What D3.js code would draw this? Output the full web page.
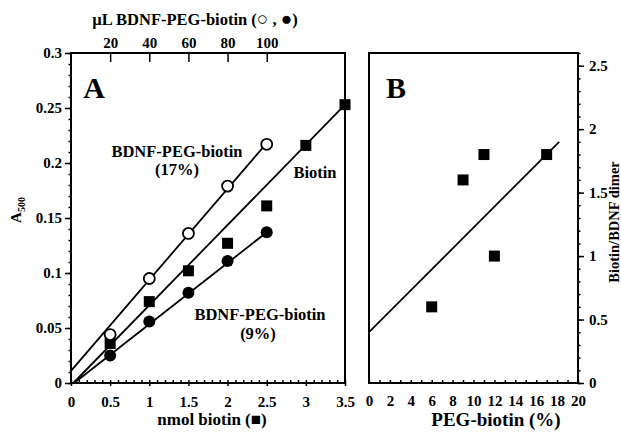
<!DOCTYPE html>
<html>
<head>
<meta charset="utf-8">
<script src="https://cdn.jsdelivr.net/npm/d3@7"></script>
<style>
  body { margin: 0; background: #fff; }
  text { font-family: "Liberation Serif", "DejaVu Serif", serif; font-weight: bold; fill: #000; }
</style>
</head>
<body>
<svg id="chart" width="621" height="432"></svg>
<script>
// panel A data (nmol biotin on x)
const nmol = [0.5, 1, 1.5, 2, 2.5];
const open17 = [0.044, 0.095, 0.136, 0.179, 0.217];
const filled9 = [0.025, 0.056, 0.082, 0.111, 0.137];
const biotinX = [0.5, 1, 1.5, 2, 2.5, 3, 3.5];
const biotinY = [0.036, 0.074, 0.102, 0.127, 0.161, 0.216, 0.253];
// fitted lines, [x, y] end points
const open17Fit = [[0, 0.011], [2.5, 0.218]];
const filled9Fit = [[0.04, 0], [2.5, 0.137]];
const biotinFit = [[0.03, 0], [3.5, 0.253]];
const uLTicks = [20, 40, 60, 80, 100];
const aTicksY = [0, 0.05, 0.1, 0.15, 0.2, 0.25, 0.3];
const aTicksX = [0, 0.5, 1, 1.5, 2, 2.5, 3, 3.5];

// panel B data
const pegPct = [6, 9, 11, 12, 17];
const ratio = [0.6, 1.6, 1.8, 1.0, 1.8];
const ratioFit = [[0, 0.4], [18.2, 1.9]];
const bTicksY = [0, 0.5, 1, 1.5, 2, 2.5];
const bTicksX = [0, 2, 4, 6, 8, 10, 12, 14, 16, 18, 20];

const svg = d3.select("#chart");

// helper: every axis call in its own group
function axis(tx, ty, ax) {
    return svg.append("g").attr("transform", "translate(" + tx + "," + ty + ")").call(ax);
}

// ---------- panel A ----------
let xA = d3.scaleLinear().domain([0, 3.5]).range([71, 345]);
let yA = d3.scaleLinear().domain([0, 0.3]).range([383, 53]);
let xTop = d3.scaleLinear().domain([0, 140]).range([71, 345]);

axis(71, 0, d3.axisLeft(yA).tickValues(d3.range(0, 0.3001, 0.01)).tickSize(2.5).tickFormat(""));
axis(71, 0, d3.axisLeft(yA).tickValues(aTicksY).tickSize(6).tickPadding(3)
    .tickFormat(d => String(+d.toFixed(2))));
axis(0, 383, d3.axisTop(xA).tickValues(d3.range(0, 3.501, 0.1)).tickSize(3).tickFormat(""));
axis(0, 383, d3.axisBottom(xA).tickValues(aTicksX).tickSize(3).tickPadding(10)
    .tickFormat(d => String(d)));
axis(0, 53, d3.axisBottom(xTop).tickValues(uLTicks).tickSize(9).tickFormat(""));
axis(0, 53, d3.axisTop(xTop).tickValues(uLTicks).tickSize(0).tickPadding(5));

// ---------- panel B ----------
let xB = d3.scaleLinear().domain([0, 20]).range([369, 578]);
let yB = d3.scaleLinear().domain([0, 2.6]).range([383, 53]);

axis(578, 0, d3.axisRight(yB).tickValues(d3.range(0, 2.601, 0.1)).tickSize(2.5).tickFormat(""));
axis(578, 0, d3.axisRight(yB).tickValues(bTicksY).tickSize(6).tickPadding(5)
    .tickFormat(d => String(d)));
axis(0, 383, d3.axisTop(xB).tickValues(d3.range(0, 20.1, 1)).tickSize(3).tickFormat(""));
axis(0, 383, d3.axisBottom(xB).tickValues(bTicksX).tickSize(0).tickPadding(12)
    .tickFormat(d => String(d)));

svg.selectAll(".domain").remove();
svg.selectAll(".tick line").attr("stroke-width", 1.5);
svg.selectAll(".tick text").style("font-size", "15px")
    .style("font-family", "Liberation Serif").style("font-weight", "bold");

// frames
svg.append("rect")
    .attr("x", 71).attr("y", 53)
    .attr("width", 345 - 71).attr("height", 383 - 53)
    .attr("fill", "none").attr("stroke", "#000").attr("stroke-width", 2);
svg.append("rect")
    .attr("x", 369).attr("y", 53)
    .attr("width", 578 - 369).attr("height", 383 - 53)
    .attr("fill", "none").attr("stroke", "#000").attr("stroke-width", 2);

// ---------- marks ----------
let line = (sx, sy) => d3.line().x(d => sx(d[0])).y(d => sy(d[1]));

[open17Fit, filled9Fit, biotinFit].forEach(f => {
    svg.append("path").datum(f).attr("d", line(xA, yA))
        .attr("fill", "none").attr("stroke", "#000").attr("stroke-width", 1.8);
});
svg.append("path").datum(ratioFit).attr("d", line(xB, yB))
    .attr("fill", "none").attr("stroke", "#000").attr("stroke-width", 1.8);

const sq = 11;
svg.selectAll(".sqA").data(biotinX).enter().append("rect")
    .attr("x", d => xA(d) - sq / 2)
    .attr("y", (d, i) => yA(biotinY[i]) - sq / 2)
    .attr("width", sq).attr("height", sq).attr("fill", "#000");

svg.selectAll(".filled").data(nmol).enter().append("circle")
    .attr("cx", d => xA(d)).attr("cy", (d, i) => yA(filled9[i]))
    .attr("r", 6).attr("fill", "#000");

svg.selectAll(".open").data(nmol).enter().append("circle")
    .attr("cx", d => xA(d)).attr("cy", (d, i) => yA(open17[i]))
    .attr("r", 5.5).attr("fill", "#fff").attr("stroke", "#000").attr("stroke-width", 1.8);

svg.selectAll(".sqB").data(pegPct).enter().append("rect")
    .attr("x", d => xB(d) - sq / 2)
    .attr("y", (d, i) => yB(ratio[i]) - sq / 2)
    .attr("width", sq).attr("height", sq).attr("fill", "#000");

// ---------- labels ----------
function label(x, y, txt, size) {
    return svg.append("text").attr("x", x).attr("y", y)
        .attr("text-anchor", "middle")
        .style("font-size", size + "px").text(txt);
}

label(94, 98, "A", 30);
label(396, 98, "B", 30);
label(177, 157, "BDNF-PEG-biotin", 16.5);
label(177, 175, "(17%)", 16.5);
label(315, 178, "Biotin", 16.5);
label(260, 320, "BDNF-PEG-biotin", 16.5);
label(258, 339, "(9%)", 16.5);
label(212, 425, "nmol biotin (\u25A0)", 17);
label(496, 426, "PEG-biotin (%)", 19);

let title = svg.append("text").attr("x", 195).attr("y", 25)
    .attr("text-anchor", "middle").style("font-size", "16.5px");
title.append("tspan").text("\u00B5L BDNF-PEG-biotin (");
title.append("tspan").style("font-size", "19px").text("\u25CB");
title.append("tspan").text(" , ");
title.append("tspan").style("font-size", "19px").text("\u25CF");
title.append("tspan").text(")");

let aLab = svg.append("text").attr("transform", "translate(21,210) rotate(-90)")
    .attr("text-anchor", "middle").style("font-size", "15px");
aLab.append("tspan").text("A");
aLab.append("tspan").attr("dy", 4).style("font-size", "10px").text("500");

svg.append("text").attr("transform", "translate(619,222) rotate(-90)")
    .attr("text-anchor", "middle").style("font-size", "14.5px")
    .text("Biotin/BDNF dimer");
</script>
</body>
</html>
